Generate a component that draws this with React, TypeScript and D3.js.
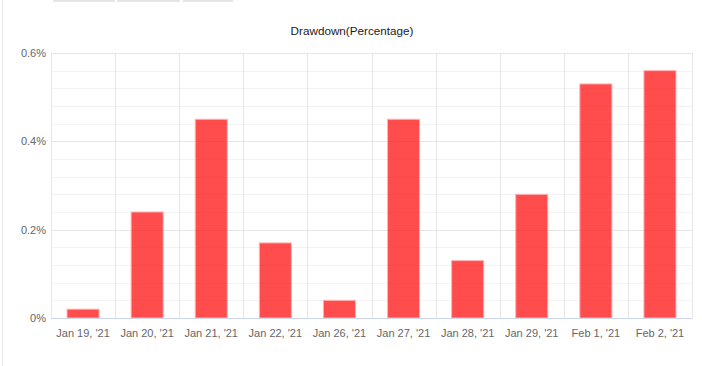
import React, { useRef, useEffect } from 'react';
import * as d3 from 'd3';

const categories = ["Jan 19, '21", "Jan 20, '21", "Jan 21, '21", "Jan 22, '21", "Jan 26, '21", "Jan 27, '21", "Jan 28, '21", "Jan 29, '21", "Feb 1, '21", "Feb 2, '21"];
const drawdown = [0.02, 0.24, 0.45, 0.17, 0.04, 0.45, 0.13, 0.28, 0.53, 0.56];
const yTicks = [0, 0.2, 0.4, 0.6];

const App = () => {
  const svgRef = useRef<SVGSVGElement>(null);

  useEffect(() => {
    const svg = d3.select(svgRef.current);
    svg.selectAll('*').remove();

    const W = 702, H = 366;
    const margin = { top: 53, right: 10, bottom: 48, left: 51 };
    const width = W - margin.left - margin.right;
    const height = H - margin.top - margin.bottom;

    // 面板邊框與頂部分頁
    svg.append('line').attr('x1', 2.5).attr('x2', 2.5).attr('y1', 0).attr('y2', H)
      .attr('stroke', '#e8e8e8');
    [[53, 115], [117, 180], [183, 233]].forEach(([a, b]) => {
      svg.append('rect').attr('x', a).attr('y', 0).attr('width', b - a).attr('height', 2)
        .attr('fill', '#e6e6e6');
    });

    svg.append('text')
      .attr('x', 352).attr('y', 35)
      .attr('text-anchor', 'middle')
      .style('font-family', 'Arial, "Liberation Sans", sans-serif')
      .style('font-size', '11.7px')
      .style('fill', '#222')
      .text('Drawdown(Percentage)');

    const g = svg.append('g').attr('transform', `translate(${margin.left},${margin.top})`);

    const x = d3.scaleBand().domain(categories).range([0, width]).paddingInner(0.5).paddingOuter(0.25);
    const y = d3.scaleLinear().domain([0, 0.6]).range([height, 0]);

    // 次網格線
    const minor = d3.range(0, 0.6001, 0.04).filter(v => Math.abs(v * 5 - Math.round(v * 5)) > 1e-6);
    g.selectAll('.minor').data(minor).enter().append('line')
      .attr('x1', 0).attr('x2', width)
      .attr('y1', d => Math.round(y(d)) + 0.5).attr('y2', d => Math.round(y(d)) + 0.5)
      .attr('stroke', '#f2f2f2');

    g.selectAll('.major').data(yTicks).enter().append('line')
      .attr('x1', 0).attr('x2', width)
      .attr('y1', d => Math.round(y(d)) + 0.5).attr('y2', d => Math.round(y(d)) + 0.5)
      .attr('stroke', '#e6e6e6');

    // 垂直分類線
    const step = width / categories.length;
    d3.range(categories.length + 1).forEach(i => {
      g.append('line')
        .attr('x1', Math.round(i * step) + 0.5).attr('x2', Math.round(i * step) + 0.5)
        .attr('y1', 0).attr('y2', height)
        .attr('stroke', '#e6e6e6');
    });

    g.selectAll('.bar').data(drawdown).enter().append('rect')
      .attr('x', (d, i) => x(categories[i])!)
      .attr('y', d => y(d))
      .attr('width', x.bandwidth())
      .attr('height', d => height - y(d))
      .attr('fill', 'rgba(255,0,0,0.7)')
      .attr('stroke', '#ffb3b3')
      .attr('stroke-width', 1);

    g.append('line').attr('x1', 0).attr('x2', width)
      .attr('y1', height + 0.5).attr('y2', height + 0.5)
      .attr('stroke', '#ccd6eb');

    g.selectAll('.ylab').data(yTicks).enter().append('text')
      .attr('x', -5).attr('y', d => y(d) + 4)
      .attr('text-anchor', 'end')
      .style('font-family', 'Arial, "Liberation Sans", sans-serif')
      .style('font-size', '11px')
      .style('fill', '#666')
      .text(d => `${+d.toFixed(1)}%`);

    g.selectAll('.xlab').data(categories).enter().append('text')
      .attr('x', d => x(d)! + x.bandwidth() / 2)
      .attr('y', height + 19)
      .attr('text-anchor', 'middle')
      .style('font-family', 'Arial, "Liberation Sans", sans-serif')
      .style('font-size', '11px')
      .style('fill', '#666')
      .text(d => d);
  }, []);

  return (
    <svg ref={svgRef} width={702} height={366}
      style={{ position: 'absolute', left: 0, top: 0, background: '#fff' }} />
  );
};

export default App;
